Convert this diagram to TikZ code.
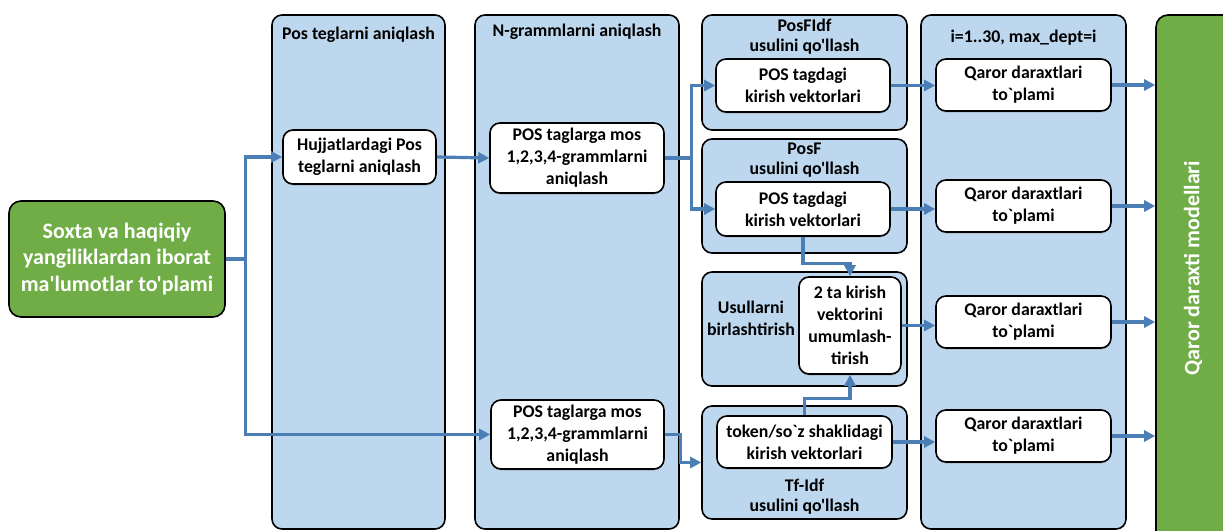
\documentclass[tikz,border=0pt]{standalone}
\usepackage{fontspec}
\setmainfont{Carlito}[Ligatures=TeXOff]
\usetikzlibrary{arrows.meta,fit,shadows}

\definecolor{panelblue}{HTML}{BDD7EE}
\definecolor{leafgreen}{HTML}{70AD47}
\definecolor{flowblue}{HTML}{4A7EB4}

\newcommand\cardfont{\fontsize{17.8}{22}\selectfont\bfseries}
\newcommand\bigfont{\fontsize{22}{26.5}\selectfont\bfseries}

\begin{document}
\begin{tikzpicture}[x=1pt,y=-1pt,
  panel/.style={draw=black, line width=1.6pt, rounded corners=10pt, fill=panelblue, inner sep=0pt},
  card/.style={draw=black, line width=1.6pt, rounded corners=10pt, fill=white, inner sep=0pt,
    align=center, font=\cardfont,
    drop shadow={shadow xshift=0pt, shadow yshift=-1.5pt, opacity=0.25, fill=black!70}},
  greenbox/.style={draw=black, line width=1.6pt, rounded corners=12pt, fill=leafgreen, inner sep=0pt,
    align=center, text=white, font=\bigfont},
  caption/.style={align=center, font=\cardfont, inner sep=0pt},
  twoline/.style={align=center, inner sep=0pt, font=\fontsize{17.8}{20}\selectfont\bfseries},
  flow/.style={draw=flowblue, line width=3.2pt, -{Triangle[length=11pt,width=11pt]}},
  joint/.style={draw=flowblue, line width=3.2pt}]

\clip (0,0) rectangle (1223,530);

% source data
\node[greenbox, fit={(9,201) (225,317)}] (src) {};
\node[align=center, text=white, font=\bigfont] (srct) at (src.center)
  {Soxta va haqiqiy\\yangiliklardan iborat\\ma'lumotlar to'plami};

% stage panels
\node[panel, fit={(272,15) (445,529)}] (p1) {};
\node[caption] (p1t) at (358.5,35) {Pos teglarni aniqlash};
\node[panel, fit={(475,15) (679,529)}] (p2) {};
\node[caption] (p2t) at (577,32) {N-grammlarni aniqlash};

\node[panel, fit={(702,15) (907,130)}] (pa) {};
\node[twoline] (pat) at (804.5,37) {PosFIdf\\usulini qo'llash};
\node[panel, fit={(702,139) (907,253)}] (pb) {};
\node[twoline] (pbt) at (804.5,160) {PosF\\usulini qo'llash};
\node[panel, fit={(702,272) (907,386)}] (pc) {};
\node[caption] (pct) at (751,318) {Usullarni\\birlashtirish};
\node[panel, fit={(702,406) (907,519)}] (pd) {};
\node[twoline] (pdt) at (804.5,497) {Tf-Idf\\usulini qo'llash};

\node[panel, fit={(921,15) (1126,529)}] (pe) {};
\node[caption] (pet) at (1023.5,38) {i=1..30, max\_dept=i};

% model output
\node[greenbox, fit={(1156,15) (1250,545)}] (out) {};
\node[rotate=90, text=white, font=\bigfont, inner sep=0pt] (outt) at (1193,268) {Qaror daraxti modellari};

% cards
\node[card, fit={(283,130) (436,184)}] (h) {};
\node[caption] at (h.center) {Hujjatlardagi Pos\\teglarni aniqlash};
\node[card, fit={(490,123) (664,193)}] (ng1) {};
\node[caption] at (ng1.center) {POS taglarga mos\\1,2,3,4-grammlarni\\aniqlash};
\node[card, fit={(491,400) (664,469)}] (ng2) {};
\node[caption] at (ng2.center) {POS taglarga mos\\1,2,3,4-grammlarni\\aniqlash};

\node[card, fit={(716,59) (890,112)}] (v1) {};
\node[caption] at (v1.center) {POS tagdagi\\kirish vektorlari};
\node[card, fit={(716,182) (890,236)}] (v2) {};
\node[caption] at (v2.center) {POS tagdagi\\kirish vektorlari};
\node[card, fit={(799,277) (901,374)}] (mg) {};
\node[caption] at (mg.center) {2 ta kirish\\vektorini\\umumlash-\\tirish};
\node[card, fit={(717,416) (892,468)}] (tk) {};
\node[caption] at (tk.center) {token/so`z shaklidagi\\kirish vektorlari};

\node[card, fit={(936,59) (1111,111)}] (q1) {};
\node[caption] at (q1.center) {Qaror daraxtlari\\to`plami};
\node[card, fit={(936,180) (1111,232)}] (q2) {};
\node[caption] at (q2.center) {Qaror daraxtlari\\to`plami};
\node[card, fit={(936,296) (1111,348)}] (q3) {};
\node[caption] at (q3.center) {Qaror daraxtlari\\to`plami};
\node[card, fit={(936,410) (1111,462)}] (q4) {};
\node[caption] at (q4.center) {Qaror daraxtlari\\to`plami};

% connectors
\draw[joint] (src.east) -- ++(20,0) coordinate (ja);
\draw[flow] (ja) |- (h.west);
\draw[flow] (ja) |- (ng2.west);
\draw[flow] (h.east) -- (ng1.west);

\draw[joint] (ng1.east) -- ++(27,0) coordinate (jb);
\draw[flow] (jb) |- (v1.west);
\draw[flow] (jb) |- (v2.west);

\draw[flow] (ng2.east) -- ++(16,0) |- (pd.west);

\draw[flow] (v2.south) -- ++(0,27) -| (mg.north);
\draw[flow] (tk.north) -- ++(0,-17) -| (mg.south);

\draw[flow] (v1.east) -- (v1.east -| q1.west);
\draw[flow] (v2.east) -- (v2.east -| q2.west);
\draw[flow] (mg.east) -- (mg.east -| q3.west);
\draw[flow] (tk.east) -- (tk.east -| q4.west);

\draw[flow] (q1.east) -- (q1.east -| out.west);
\draw[flow] (q2.east) -- (q2.east -| out.west);
\draw[flow] (q3.east) -- (q3.east -| out.west);
\draw[flow] (q4.east) -- (q4.east -| out.west);
\end{tikzpicture}
\end{document}
